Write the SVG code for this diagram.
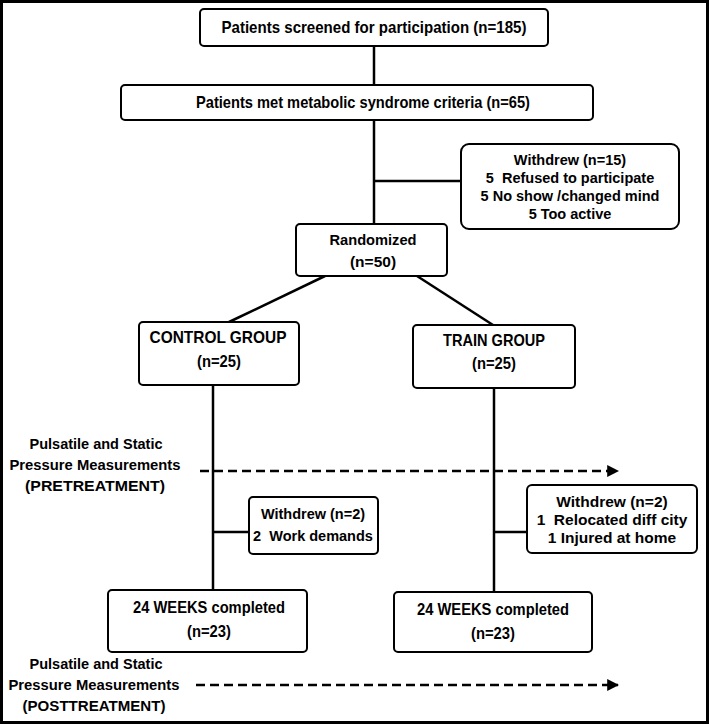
<svg xmlns="http://www.w3.org/2000/svg" width="709" height="724" viewBox="0 0 709 724">
<style>
.box{fill:#fff;stroke:#000;stroke-width:2}
.ln{stroke:#000;stroke-width:2.5;fill:none}
.dash{stroke:#000;stroke-width:2.5;fill:none;stroke-dasharray:9,5}
text{font-family:"Liberation Sans",Arial,sans-serif;font-weight:bold;font-size:14.5px;fill:#000;text-anchor:middle;white-space:pre}
.b{font-size:15.5px}
.c{font-size:16.5px}
</style>
<defs>
<marker id="ah" viewBox="0 0 10 10" refX="9" refY="5" markerWidth="12" markerHeight="12" orient="auto" markerUnits="userSpaceOnUse">
<path d="M0,0 L10,5 L0,10 z" fill="#000"/>
</marker>
</defs>
<rect x="1.5" y="1.5" width="706" height="721" fill="#fff" stroke="#000" stroke-width="3"/>
<g id="connectors">
<line class="ln" x1="374" y1="46" x2="374" y2="85"/>
<line class="ln" x1="374" y1="120" x2="374" y2="224"/>
<line class="ln" x1="374" y1="181" x2="461" y2="181"/>
<line class="ln" x1="325" y1="276" x2="229" y2="322"/>
<line class="ln" x1="417" y1="276" x2="493" y2="325"/>
<line class="ln" x1="213" y1="385" x2="213" y2="590"/>
<line class="ln" x1="494" y1="388" x2="494" y2="592"/>
<line class="ln" x1="213" y1="532" x2="249" y2="532"/>
<line class="ln" x1="494" y1="532" x2="527" y2="532"/>
<line class="dash" x1="200" y1="471" x2="618" y2="471" marker-end="url(#ah)"/>
<line class="dash" x1="196" y1="685" x2="618" y2="685" marker-end="url(#ah)"/>
</g>
<g id="screened">
<rect class="box" x="200" y="9" width="348" height="37" rx="4"/>
<text x="374" y="33" class="c" textLength="305" lengthAdjust="spacingAndGlyphs">Patients screened for participation (n=185)</text>
</g>
<g id="metcrit">
<rect class="box" x="121" y="85" width="472" height="35" rx="4"/>
<text x="363" y="108" class="c" textLength="334" lengthAdjust="spacingAndGlyphs">Patients met metabolic syndrome criteria (n=65)</text>
</g>
<g id="withdrew1">
<rect class="box" x="461" y="144" width="218" height="85" rx="8"/>
<text x="570" y="165">Withdrew (n=15)</text>
<text x="570" y="183">5  Refused to participate</text>
<text x="570" y="201">5 No show /changed mind</text>
<text x="570" y="219">5 Too active</text>
</g>
<g id="randomized">
<rect class="box" x="296" y="224" width="151" height="52" rx="4"/>
<text x="373" y="245" class="b" textLength="87" lengthAdjust="spacingAndGlyphs">Randomized</text>
<text x="373" y="267" class="b">(n=50)</text>
</g>
<g id="control">
<rect class="box" x="139" y="322" width="160" height="63" rx="4"/>
<text x="218" y="343" class="c" textLength="137" lengthAdjust="spacingAndGlyphs">CONTROL GROUP</text>
<text x="219" y="367" class="c" textLength="44" lengthAdjust="spacingAndGlyphs">(n=25)</text>
</g>
<g id="train">
<rect class="box" x="413" y="325" width="162" height="63" rx="4"/>
<text x="494" y="346" class="c" textLength="102" lengthAdjust="spacingAndGlyphs">TRAIN GROUP</text>
<text x="494" y="369" class="c" textLength="44" lengthAdjust="spacingAndGlyphs">(n=25)</text>
</g>
<g id="pre">
<text x="96" y="449" class="b" textLength="133" lengthAdjust="spacingAndGlyphs">Pulsatile and Static</text>
<text x="95" y="470" class="b" textLength="171" lengthAdjust="spacingAndGlyphs">Pressure Measurements</text>
<text x="95" y="491" class="b" textLength="140" lengthAdjust="spacingAndGlyphs">(PRETREATMENT)</text>
</g>
<g id="withdrew2">
<rect class="box" x="249" y="497" width="129" height="57" rx="4"/>
<text x="313" y="519">Withdrew (n=2)</text>
<text x="313" y="541">2  Work demands</text>
</g>
<g id="withdrew3">
<rect class="box" x="527" y="485" width="170" height="68" rx="5"/>
<text x="612" y="507" class="b">Withdrew (n=2)</text>
<text x="612" y="525" class="b">1  Relocated diff city</text>
<text x="612" y="543" class="b">1 Injured at home</text>
</g>
<g id="weeks1">
<rect class="box" x="108" y="590" width="199" height="62" rx="4"/>
<text x="209" y="613" class="c" textLength="152" lengthAdjust="spacingAndGlyphs">24 WEEKS completed</text>
<text x="209" y="637" class="c" textLength="44" lengthAdjust="spacingAndGlyphs">(n=23)</text>
</g>
<g id="weeks2">
<rect class="box" x="394" y="592" width="198" height="60" rx="4"/>
<text x="493" y="615" class="c" textLength="152" lengthAdjust="spacingAndGlyphs">24 WEEKS completed</text>
<text x="493" y="639" class="c" textLength="44" lengthAdjust="spacingAndGlyphs">(n=23)</text>
</g>
<g id="post">
<text x="96" y="669" class="b" textLength="133" lengthAdjust="spacingAndGlyphs">Pulsatile and Static</text>
<text x="94" y="690" class="b" textLength="171" lengthAdjust="spacingAndGlyphs">Pressure Measurements</text>
<text x="94" y="711" class="b" textLength="143" lengthAdjust="spacingAndGlyphs">(POSTTREATMENT)</text>
</g>
</svg>
